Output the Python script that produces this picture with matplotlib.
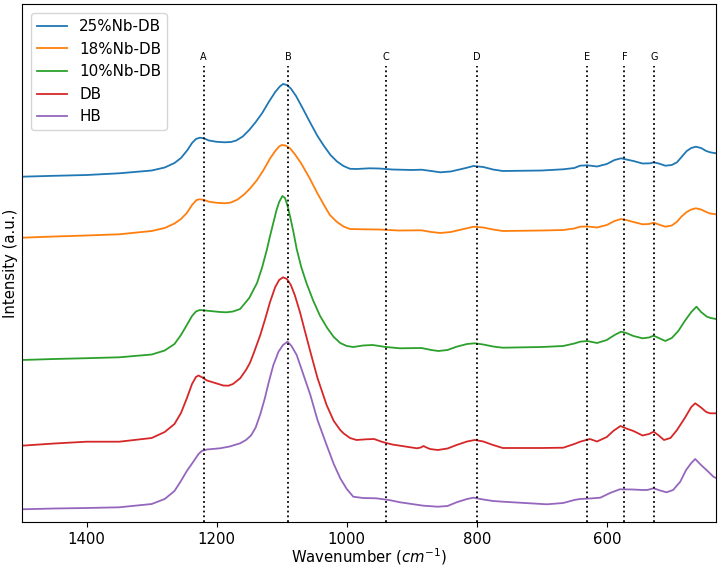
import matplotlib
matplotlib.use("Agg")
import matplotlib.pyplot as plt

labels = ["25%Nb-DB", "18%Nb-DB", "10%Nb-DB", "DB", "HB"]
colors = ["#1f77b4", "#ff7f0e", "#2ca02c", "#d62728", "#9467bd"]

# Wavenumber / stacked-intensity pairs (arbitrary units)
wn_25 = [1500, 1450, 1400, 1350, 1300, 1280, 1265, 1255, 1245, 1238, 1232, 1226, 1220, 1212, 1200,
         1188, 1178, 1170, 1160, 1150, 1140, 1130, 1120, 1110, 1103, 1098, 1092, 1086, 1078, 1068,
         1057, 1045, 1035, 1025, 1015, 1005, 995, 985, 965, 950, 930, 900, 885, 870, 856, 840, 820,
         805, 790, 775, 760, 700, 667, 650, 641, 630, 615, 600, 588, 578, 570, 559, 545, 533, 528,
         520, 510, 500, 492, 485, 477, 470, 463, 455, 447, 441, 432]
in_25 = [345.6, 346.5, 347.3, 349.0, 351.8, 354.8, 359.3, 364.3, 372.3, 379.3, 383.3, 384.6, 384.0,
         381.8, 380.5, 380.0, 380.3, 381.8, 385.8, 392.3, 400.3, 409.3, 420.3, 430.3, 435.8, 438.3,
         437.3, 433.8, 426.3, 414.3, 400.6, 386.3, 376.3, 367.3, 360.8, 356.3, 353.5, 353.3, 354.0,
         353.8, 352.8, 352.3, 352.6, 351.3, 350.0, 350.8, 353.8, 356.3, 355.3, 352.8, 351.3, 351.8,
         353.0, 354.3, 356.6, 357.0, 355.8, 358.3, 362.3, 364.0, 362.8, 361.3, 358.8, 359.0, 360.0,
         358.8, 356.6, 357.3, 360.0, 365.3, 371.3, 374.3, 375.6, 374.3, 371.3, 370.0, 369.0]

wn_18 = [1500, 1450, 1400, 1350, 1300, 1280, 1265, 1255, 1246, 1238, 1231, 1226, 1220, 1212, 1200,
         1188, 1178, 1168, 1158, 1148, 1138, 1128, 1118, 1110, 1104, 1100, 1094, 1087, 1080, 1070,
         1057, 1045, 1035, 1026, 1015, 1005, 995, 975, 950, 920, 885, 870, 856, 840, 820, 805, 790,
         775, 760, 700, 667, 650, 641, 630, 615, 600, 588, 578, 570, 559, 545, 535, 528, 520, 510,
         500, 492, 485, 477, 470, 463, 455, 447, 441, 432]
in_18 = [284.6, 285.8, 286.8, 288.0, 291.3, 294.3, 298.8, 303.3, 309.3, 317.3, 322.3, 323.0, 322.5,
         320.6, 319.5, 319.0, 319.8, 322.8, 327.8, 334.3, 342.3, 352.3, 363.8, 371.3, 375.8, 377.3,
         376.8, 373.8, 368.3, 358.8, 344.0, 328.8, 317.3, 307.3, 300.3, 295.8, 293.3, 293.0, 292.8,
         291.8, 292.0, 290.3, 289.3, 290.3, 293.3, 295.6, 294.8, 292.8, 291.3, 291.8, 292.3, 293.8,
         295.6, 295.8, 294.8, 297.3, 301.3, 303.3, 302.3, 300.3, 298.0, 298.3, 299.6, 297.8, 295.6,
         296.8, 300.6, 305.8, 310.3, 312.8, 314.0, 312.8, 310.3, 308.8, 308.0]

wn_10 = [1500, 1450, 1400, 1350, 1300, 1280, 1265, 1255, 1246, 1238, 1232, 1226, 1218, 1210, 1195,
         1185, 1175, 1164, 1150, 1138, 1130, 1123, 1118, 1113, 1108, 1104, 1099, 1095, 1091, 1087,
         1082, 1077, 1070, 1062, 1052, 1041, 1030, 1020, 1010, 1000, 990, 975, 960, 940, 918,
         885, 870, 859, 845, 831, 815, 803, 790, 775, 760, 700, 667, 650, 641, 630, 615, 600, 588,
         578, 570, 559, 545, 535, 528, 520, 510, 500, 490, 480, 470, 462, 455, 446, 440, 432]
in_10 = [162.3, 163.3, 164.1, 165.0, 167.8, 171.8, 178.3, 187.3, 197.3, 206.3, 210.8, 212.3, 211.8,
         211.3, 210.3, 210.0, 210.8, 213.3, 224.3, 239.3, 255.3, 272.3, 286.3, 299.3, 312.3, 320.3,
         326.3, 324.3, 316.3, 305.3, 290.3, 273.3, 255.3, 239.3, 222.3, 206.3, 194.3, 185.3, 179.3,
         176.3, 175.3, 176.8, 177.3, 175.3, 174.0, 174.3, 172.3, 171.3, 172.3, 175.6, 178.3,
         179.0, 177.8, 175.8, 174.6, 175.3, 176.3, 178.8, 180.6, 181.3, 179.3, 182.3, 187.3, 190.6,
         189.3, 186.3, 184.0, 184.8, 186.6, 184.3, 181.3, 184.3, 191.3, 201.3, 210.3, 215.6, 210.3,
         205.6, 204.3, 203.3]

wn_db = [1500, 1450, 1400, 1350, 1300, 1280, 1265, 1255, 1246, 1238, 1232, 1228, 1222, 1215, 1200,
         1190, 1182, 1175, 1164, 1155, 1149, 1143, 1133, 1125, 1118, 1110, 1104, 1098, 1092, 1086,
         1080, 1072, 1064, 1056, 1045, 1031, 1020, 1010, 1005, 995, 985, 970, 958, 945, 930, 910,
         892, 886, 882, 878, 872, 860, 845, 831, 815, 803, 790, 775, 760, 700, 667, 650, 641, 626,
         615, 600, 590, 579, 570, 559, 545, 535, 528, 520, 512, 502, 492, 480, 470, 464, 455, 447,
         441, 432]
in_db = [76.6, 78.8, 80.6, 80.6, 84.3, 90.3, 98.3, 109.3, 124.0, 138.3, 145.3, 146.8, 144.8, 141.8,
         138.8, 136.8, 136.6, 138.3, 144.0, 152.3, 159.3, 169.3, 187.3, 204.3, 220.3, 235.3, 242.3,
         245.0, 243.3, 237.3, 227.3, 210.3, 190.3, 170.6, 144.3, 117.3, 101.3, 92.3, 89.0, 84.3, 82.3,
         83.0, 83.3, 80.3, 77.8, 75.8, 74.0, 74.8, 76.3, 75.0, 73.3, 72.3, 73.8, 77.3, 80.8, 82.3,
         80.8, 77.3, 74.3, 74.3, 74.6, 78.3, 80.6, 83.3, 80.8, 85.3, 91.3, 96.3, 93.8, 91.3, 86.8,
         88.3, 90.6, 86.8, 82.3, 84.3, 92.3, 104.3, 115.3, 119.0, 114.8, 110.3, 109.0, 109.0]

wn_hb = [1500, 1450, 1400, 1350, 1300, 1280, 1265, 1256, 1246, 1236, 1228, 1223, 1215, 1195, 1180,
         1164, 1155, 1147, 1140, 1133, 1126, 1120, 1113, 1105, 1098, 1091, 1085, 1077, 1067, 1056,
         1045, 1031, 1020, 1010, 1000, 990, 975, 955, 935, 918, 900, 882, 860, 845, 831, 815, 805,
         790, 775, 760, 692, 667, 650, 641, 626, 610, 595, 580, 560, 545, 538, 528, 518, 508, 498,
         487, 478, 470, 464, 455, 445, 436, 432]
in_hb = [13.0, 13.8, 14.3, 15.0, 18.3, 23.3, 31.3, 40.3, 51.3, 60.6, 68.3, 71.3, 72.8, 74.0, 75.8,
         79.0, 82.3, 87.0, 95.0, 108.0, 124.0, 140.0, 157.0, 170.6, 177.3, 180.6, 176.3, 167.3,
         148.3, 127.3, 102.3, 77.3, 58.3, 44.0, 33.3, 25.6, 24.3, 24.0, 22.3, 20.0, 18.3, 16.6, 15.6,
         16.3, 20.0, 23.3, 24.6, 22.8, 21.3, 20.6, 18.0, 19.3, 22.3, 23.3, 23.8, 24.6, 29.3, 33.0,
         32.8, 32.3, 32.3, 34.0, 31.8, 30.0, 32.3, 40.6, 52.3, 59.3, 63.3, 57.3, 51.3, 45.6, 44.3]

band_names = ["A", "B", "C", "D", "E", "F", "G"]
band_pos = [1220, 1090, 940, 800, 630, 573, 527]

series = [(wn_25, in_25), (wn_18, in_18), (wn_10, in_10), (wn_db, in_db), (wn_hb, in_hb)]

fig = plt.figure(figsize=(7.19, 5.67), dpi=100)
ax = fig.add_axes([21.7 / 719, 1 - 522.3 / 567, (716 - 21.7) / 719, (522.3 - 4) / 567])

for (wn, inten), lab, col in zip(series, labels, colors):
    ax.plot(wn, inten, color=col, lw=1.3, label=lab)

for name, pos in zip(band_names, band_pos):
    ax.vlines(pos, 0, 456, colors="black", linestyles=":", lw=1.3)
    ax.text(pos, 465.6, name, ha="center", va="center", fontsize=7)

ax.set_xlim(1500, 432)
ax.set_ylim(0, 518.3)
ax.set_yticks([])
ax.set_xticks([1400, 1200, 1000, 800, 600])
ax.tick_params(axis="x", labelsize=10.7)
ax.set_xlabel("Wavenumber ($cm^{-1}$)", fontsize=10.7)
ax.xaxis.set_label_coords(0.5, -0.046)
ax.set_ylabel("Intensity (a.u.)", fontsize=10.7, labelpad=3)
ax.legend(loc="upper left", fontsize=10.9, borderaxespad=0.6)

fig.savefig("out.png", dpi=100)
